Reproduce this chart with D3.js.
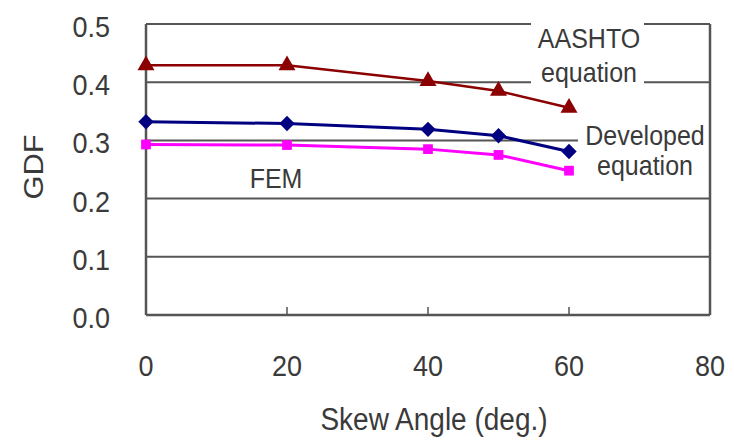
<!DOCTYPE html>
<html>
<head>
<meta charset="utf-8">
<script src="https://cdn.jsdelivr.net/npm/d3@7"></script>
<style>
  html, body { margin: 0; padding: 0; background: #fff; }
  svg { display: block; }
  text { font-family: "Liberation Sans", Arial, sans-serif; fill: #3a3a3a; }
</style>
</head>
<body>
<svg id="chart" width="734" height="440"></svg>
<script>
// Skew angles (deg.) at which GDF was evaluated
const skewAngles = [0, 20, 40, 50, 60];
// Girder distribution factors for each method
const aashto    = [0.429, 0.429, 0.402, 0.385, 0.356];
const developed = [0.332, 0.329, 0.319, 0.308, 0.281];
const fem       = [0.293, 0.292, 0.285, 0.275, 0.248];
// Axis ticks
const xTicks = [0, 20, 40, 60, 80];
const yTicks = [0.0, 0.1, 0.2, 0.3, 0.4, 0.5];

const svg = d3.select("#chart");
const plotLeft = 146, plotRight = 710, plotTop = 24, plotBottom = 315;

const x = d3.scaleLinear().domain([0, 80]).range([plotLeft, plotRight]);
const y = d3.scaleLinear().domain([0, 0.5]).range([plotBottom, plotTop]);

const axisColor = "#555";
const stretch = "scale(1,1.1)";   // slightly tall lettering

// horizontal gridlines
svg.append("g").selectAll("line")
  .data(yTicks.filter(d => d > 0))
  .join("line")
  .attr("x1", plotLeft).attr("x2", plotRight)
  .attr("y1", d => y(d)).attr("y2", d => y(d))
  .attr("stroke", axisColor).attr("stroke-width", 2);

// frame: left and bottom edges
svg.append("line").attr("x1", plotLeft).attr("x2", plotLeft).attr("y1", plotTop).attr("y2", plotBottom)
  .attr("stroke", axisColor).attr("stroke-width", 2.5);
svg.append("line").attr("x1", plotLeft).attr("x2", plotRight).attr("y1", plotBottom).attr("y2", plotBottom)
  .attr("stroke", axisColor).attr("stroke-width", 2.5);

// inward x tick marks
svg.append("g").selectAll("line")
  .data(xTicks.filter(d => d > 0))
  .join("line")
  .attr("x1", d => x(d)).attr("x2", d => x(d))
  .attr("y1", plotBottom).attr("y2", plotBottom - 8)
  .attr("stroke", axisColor).attr("stroke-width", 1.5);

// tick labels
svg.append("g").selectAll("text")
  .data(yTicks)
  .join("text")
  .attr("transform", d => `translate(110,${y(d) + 13}) ${stretch}`)
  .attr("text-anchor", "end")
  .style("font-size", "27px")
  .text(d => d.toFixed(1));

svg.append("g").selectAll("text")
  .data(xTicks)
  .join("text")
  .attr("transform", d => `translate(${x(d)},376) ${stretch}`)
  .attr("text-anchor", "middle")
  .style("font-size", "27px")
  .text(d => d);

// axis titles
svg.append("text")
  .attr("transform", `translate(434,430) ${stretch}`)
  .attr("text-anchor", "middle")
  .style("font-size", "28px")
  .text("Skew Angle (deg.)");

svg.append("text")
  .attr("transform", "translate(43,167) rotate(-90) scale(1.1,1)")
  .attr("text-anchor", "middle")
  .style("font-size", "28px")
  .text("GDF");

// series labels sit on white boxes that break the gridlines
function label(lines, cx, baselines, box) {
  const g = svg.append("g");
  g.append("rect")
    .attr("x", box[0]).attr("y", box[1])
    .attr("width", box[2]).attr("height", box[3])
    .attr("fill", "#fff");
  lines.forEach((t, i) => {
    g.append("text")
      .attr("transform", `translate(${cx},${baselines[i]}) ${stretch}`)
      .attr("text-anchor", "middle")
      .style("font-size", "25px")
      .text(t);
  });
}
label(["AASHTO", "equation"], 589, [48, 82], [531, 18, 113, 72]);
label(["Developed", "equation"], 645, [145, 175], [578, 125, 131, 58]);
label(["FEM"], 276, [188], [240, 166, 72, 26]);

// right edge drawn over the label boxes
svg.append("line").attr("x1", plotRight).attr("x2", plotRight).attr("y1", plotTop).attr("y2", plotBottom)
  .attr("stroke", axisColor).attr("stroke-width", 2.5);

const line = d3.line().x((d, i) => x(skewAngles[i])).y(d => y(d));

const series = [
  { values: fem,       color: "#ff00ff", width: 3,   shape: d3.symbolSquare,   size: 95 },
  { values: developed, color: "#000080", width: 3,   shape: d3.symbolDiamond2, size: 150 },
  { values: aashto,    color: "#8b0000", width: 2.5, shape: d3.symbolTriangle, size: 125 }
];

series.forEach(s => {
  svg.append("path")
    .datum(s.values)
    .attr("d", line)
    .attr("fill", "none")
    .attr("stroke", s.color)
    .attr("stroke-width", s.width);
  svg.append("g").selectAll("path")
    .data(s.values)
    .join("path")
    .attr("transform", (d, i) => `translate(${x(skewAngles[i])},${y(d)})`)
    .attr("d", d3.symbol().type(s.shape).size(s.size))
    .attr("fill", s.color);
});
</script>
</body>
</html>
